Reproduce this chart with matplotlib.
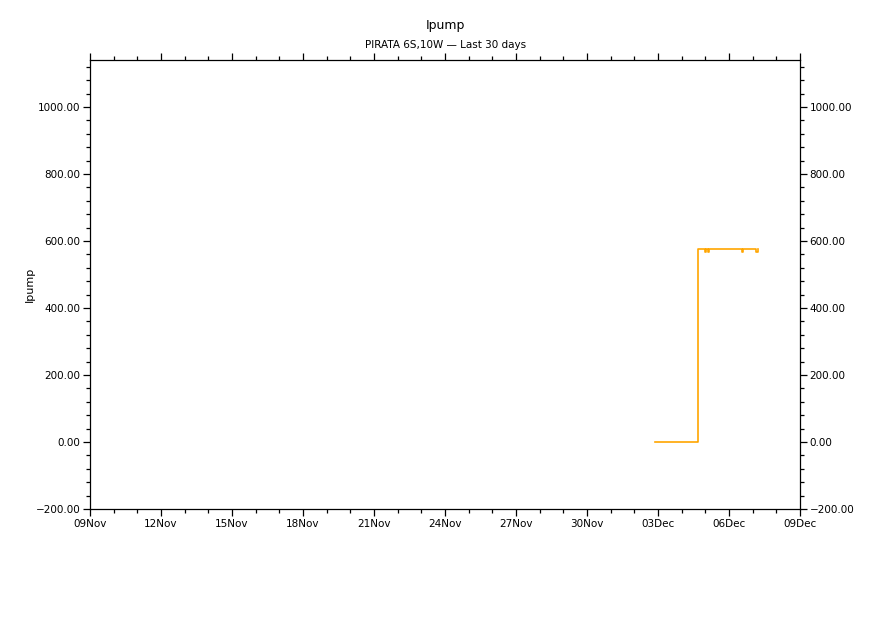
import matplotlib
matplotlib.use("Agg")
import matplotlib.pyplot as plt
import matplotlib.dates as mdates
from matplotlib.ticker import MultipleLocator, FuncFormatter, FixedLocator
import pandas as pd

# Ipump readings, PIRATA 6S,10W (last 30 days)
times = [
    "2023-12-02 21:00", "2023-12-04 16:00", "2023-12-04 17:00",
    "2023-12-04 23:00", "2023-12-05 00:00", "2023-12-05 01:00",
    "2023-12-05 02:00", "2023-12-05 03:00", "2023-12-05 04:00",
    "2023-12-06 12:00", "2023-12-06 13:00", "2023-12-06 14:00",
    "2023-12-07 02:00", "2023-12-07 03:00", "2023-12-07 05:00",
]
ipump = [0, 0, 575, 575, 566, 575, 575, 566, 575, 575, 566, 575, 575, 568, 575]

x_start = "2023-11-09"
x_end = "2023-12-09"
y_min, y_max = -200, 1140

t = pd.to_datetime(times)

fig = plt.figure(figsize=(8.91, 6.30), dpi=100)
ax = fig.add_axes([90 / 891, 1 - 509 / 630, 710 / 891, 449 / 630])

ax.plot(t, ipump, color="#FFA500", lw=1.2, drawstyle="steps-post")

ax.set_xlim(pd.Timestamp(x_start), pd.Timestamp(x_end))
ax.set_ylim(y_min, y_max)

major_days = pd.date_range(x_start, x_end, freq="3D")
minor_days = pd.date_range(x_start, x_end, freq="1D")
ax.xaxis.set_major_locator(FixedLocator(mdates.date2num(major_days)))
ax.xaxis.set_minor_locator(FixedLocator(mdates.date2num(minor_days)))
ax.xaxis.set_major_formatter(mdates.DateFormatter("%d%b"))

ax.yaxis.set_major_locator(MultipleLocator(200))
ax.yaxis.set_minor_locator(MultipleLocator(40))
ax.yaxis.set_major_formatter(
    FuncFormatter(lambda v, p: f"{v:.2f}".replace("-", "\u2212")))

ax.tick_params(which="both", direction="out", top=True, right=True,
               labelright=True, labelsize=7.5, width=0.9, pad=2)
ax.tick_params(which="major", length=5)
ax.tick_params(which="minor", length=3)

for s in ax.spines.values():
    s.set_linewidth(0.9)

ax.set_ylabel("Ipump", fontsize=8)
ax.yaxis.set_label_coords(-55 / 710, 0.5)
fig.text(0.5, 1 - 25 / 630, "Ipump", ha="center", va="center", fontsize=9)
fig.text(0.5, 1 - 45 / 630, "PIRATA 6S,10W \u2014 Last 30 days",
         ha="center", va="center", fontsize=7.5)

fig.savefig("out.png", dpi=100)
